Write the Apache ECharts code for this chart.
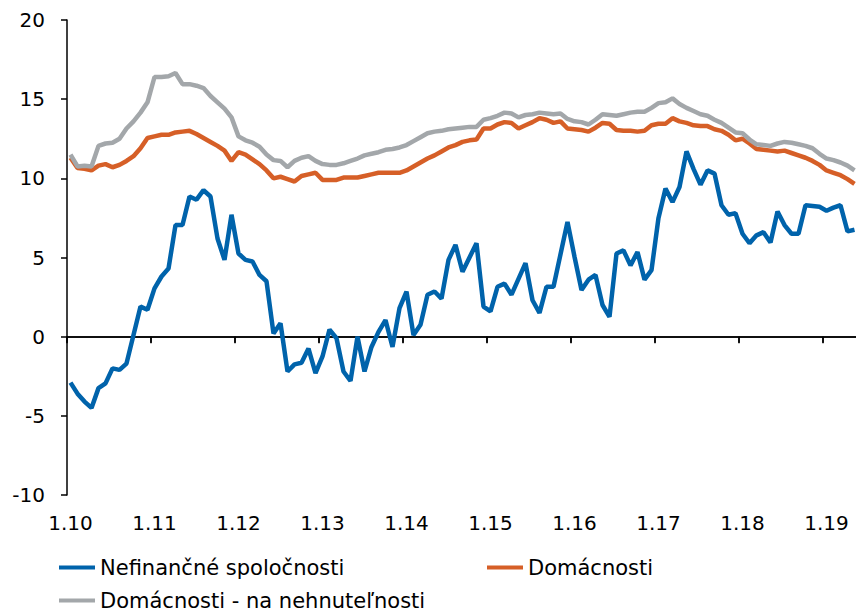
<!DOCTYPE html>
<html>
<head>
<meta charset="utf-8">
<script src="https://cdn.jsdelivr.net/npm/echarts@6/dist/echarts.min.js"></script>
<style>
html,body{margin:0;padding:0;background:#fff;}
#chart{width:856px;height:613px;}
</style>
</head>
<body>
<div id="chart"></div>
<script>
// Monthly categories Jan 2010 .. May 2019 (labels "month.yy")
const startYear = 10, monthCount = 113;
const categories = [];
for (let k = 0; k < monthCount; k++) {
  categories.push((k % 12 + 1) + '.' + (startYear + Math.floor(k / 12)));
}
const yTicks = [-10, -5, 0, 5, 10, 15, 20];

const seriesNames = ['Nefinančné spoločnosti', 'Domácnosti', 'Domácnosti - na nehnuteľnosti'];

const nefinancne = [
  -2.9, -3.6, -4.1, -4.5, -3.25, -2.95, -2.0, -2.1, -1.7, 0.1, 1.9, 1.7,
  3.05, 3.8, 4.3, 7.05, 7.05, 8.85, 8.65, 9.25, 8.85, 6.2, 4.85, 7.7,
  5.25, 4.85, 4.75, 3.9, 3.5, 0.2, 0.85, -2.2, -1.75, -1.65, -0.75, -2.3,
  -1.25, 0.45, -0.1, -2.2, -2.8, 0.0, -2.2, -0.65, 0.3, 1.05, -0.65, 1.8,
  2.85, 0.1, 0.75, 2.65, 2.85, 2.4, 4.85, 5.8, 4.1, 5.0, 5.9, 1.9,
  1.6, 3.15, 3.35, 2.65, 3.65, 4.65, 2.3, 1.5, 3.15, 3.15, 5.2, 7.25,
  5.05, 2.95, 3.6, 3.9, 2.0, 1.25, 5.25, 5.45, 4.5, 5.35, 3.6, 4.2,
  7.5, 9.35, 8.5, 9.45, 11.7, 10.6, 9.6, 10.5, 10.3, 8.3, 7.7, 7.8,
  6.5, 5.9, 6.4, 6.6, 5.95, 7.9, 7.05, 6.5, 6.5, 8.3, 8.25, 8.2,
  7.95, 8.15, 8.3, 6.65, 6.75
];

const domacnosti = [
  11.3, 10.65, 10.6, 10.5, 10.8, 10.9, 10.7, 10.85, 11.1, 11.4, 11.9, 12.55,
  12.65, 12.75, 12.75, 12.9, 12.95, 13.0, 12.8, 12.55, 12.3, 12.05, 11.75, 11.1,
  11.65, 11.5, 11.2, 10.9, 10.5, 10.0, 10.1, 9.95, 9.8, 10.15, 10.25, 10.35,
  9.9, 9.9, 9.9, 10.05, 10.05, 10.05, 10.15, 10.25, 10.35, 10.35, 10.35, 10.35,
  10.5, 10.75, 11.0, 11.25, 11.45, 11.7, 11.95, 12.1, 12.3, 12.4, 12.45, 13.15,
  13.15, 13.4, 13.55, 13.5, 13.15, 13.35, 13.55, 13.8, 13.7, 13.5, 13.6, 13.15,
  13.1, 13.05, 12.95, 13.2, 13.5, 13.45, 13.05, 13.0, 13.0, 12.95, 13.0, 13.35,
  13.45, 13.45, 13.8, 13.6, 13.5, 13.35, 13.3, 13.3, 13.1, 13.0, 12.75, 12.4,
  12.5, 12.2, 11.85, 11.8, 11.75, 11.7, 11.75, 11.6, 11.45, 11.3, 11.1, 10.85,
  10.5, 10.35, 10.2, 9.95, 9.65
];

const nehnutelnosti = [
  11.5, 10.75, 10.8, 10.75, 12.05, 12.2, 12.25, 12.5, 13.15, 13.6, 14.15, 14.8,
  16.4, 16.4, 16.45, 16.65, 15.95, 15.95, 15.85, 15.7, 15.2, 14.8, 14.4, 13.85,
  12.65, 12.4, 12.25, 12.0, 11.5, 11.15, 11.1, 10.7, 11.1, 11.3, 11.4, 11.1,
  10.9, 10.85, 10.85, 10.95, 11.1, 11.25, 11.45, 11.55, 11.65, 11.8, 11.85, 11.95,
  12.1, 12.35, 12.6, 12.85, 12.95, 13.0, 13.1, 13.15, 13.2, 13.25, 13.25, 13.7,
  13.8, 13.95, 14.15, 14.1, 13.85, 14.0, 14.05, 14.15, 14.1, 14.05, 14.1, 13.75,
  13.6, 13.55, 13.4, 13.7, 14.05, 14.0, 13.95, 14.05, 14.15, 14.2, 14.2, 14.45,
  14.75, 14.8, 15.05, 14.7, 14.45, 14.25, 14.05, 13.95, 13.7, 13.5, 13.2, 12.9,
  12.85, 12.45, 12.15, 12.1, 12.05, 12.2, 12.3, 12.25, 12.15, 12.05, 11.9, 11.55,
  11.25, 11.15, 11.0, 10.8, 10.5
];

const colors = ['#0063ab', '#d65f27', '#a3a7aa'];
const FONT = 'DejaVu Sans, Verdana, sans-serif';

const yMin = yTicks[0], yMax = yTicks[yTicks.length - 1];
const gridLeft = 67, gridTop = 20, gridWidth = 791, gridHeight = 475;
const zeroOffset = gridHeight * (0 - yMin) / (yMax - yMin);

// only the split line at value 0 is drawn (black), the others are transparent
const splitColors = yTicks.map(function (t) { return t === 0 ? '#000000' : 'rgba(0,0,0,0)'; });

const chart = echarts.init(document.getElementById('chart'), null, {renderer: 'svg'});

function legendFor(name, left, top) {
  return {
    data: [{name: name, icon: 'rect'}],
    left: left, top: top,
    orient: 'horizontal',
    itemWidth: 36, itemHeight: 4,
    itemGap: 0,
    padding: 0,
    selectedMode: false,
    textStyle: {fontFamily: FONT, fontSize: 21, color: '#000'}
  };
}

chart.setOption({
  animation: false,
  backgroundColor: '#fff',
  grid: {left: gridLeft, top: gridTop, width: gridWidth, height: gridHeight, containLabel: false, outerBoundsMode: 'none'},
  xAxis: {
    type: 'category',
    data: categories,
    boundaryGap: true,
    offset: -zeroOffset,
    axisLine: {show: true, onZero: false, lineStyle: {color: '#000', width: 1.5}},
    axisTick: {show: true, interval: 11, length: 6, lineStyle: {color: '#000', width: 1.5}},
    axisLabel: {show: true, interval: 11, margin: zeroOffset + 18, color: '#000', fontFamily: FONT, fontSize: 20},
    splitLine: {show: false}
  },
  yAxis: {
    type: 'value',
    min: yMin, max: yMax, interval: 5,
    axisLine: {show: true, lineStyle: {color: '#000', width: 1.5}},
    axisTick: {show: true, length: 6, lineStyle: {color: '#000', width: 1.5}},
    axisLabel: {show: true, margin: 22, color: '#000', fontFamily: FONT, fontSize: 20},
    splitLine: {show: true, lineStyle: {color: splitColors, width: 1.5, type: 'solid'}}
  },
  legend: [
    legendFor(seriesNames[0], 59, 557),
    legendFor(seriesNames[1], 487, 557),
    legendFor(seriesNames[2], 59, 590)
  ],
  series: [
    {name: seriesNames[0], type: 'line', data: nefinancne, showSymbol: false, symbol: 'none',
     lineStyle: {color: colors[0], width: 4.5}, itemStyle: {color: colors[0]}},
    {name: seriesNames[1], type: 'line', data: domacnosti, showSymbol: false, symbol: 'none',
     lineStyle: {color: colors[1], width: 4.5}, itemStyle: {color: colors[1]}},
    {name: seriesNames[2], type: 'line', data: nehnutelnosti, showSymbol: false, symbol: 'none',
     lineStyle: {color: colors[2], width: 4.5}, itemStyle: {color: colors[2]}}
  ]
});

// yearly tick marks hanging below the zero line
const y0 = gridTop + gridHeight * (yMax - 0) / (yMax - yMin);
const band = gridWidth / monthCount;
const tickGraphics = [];
categories.forEach(function (c, k) {
  if (k % 12 === 0) {
    const x = Math.round(gridLeft + band * k);
    tickGraphics.push({
      type: 'rect', z: 100, silent: true,
      shape: {x: x - 0.75, y: y0, width: 1.5, height: 6.5},
      style: {fill: '#000'}
    });
  }
});
chart.setOption({graphic: {elements: tickGraphics}});
</script>
</body>
</html>
